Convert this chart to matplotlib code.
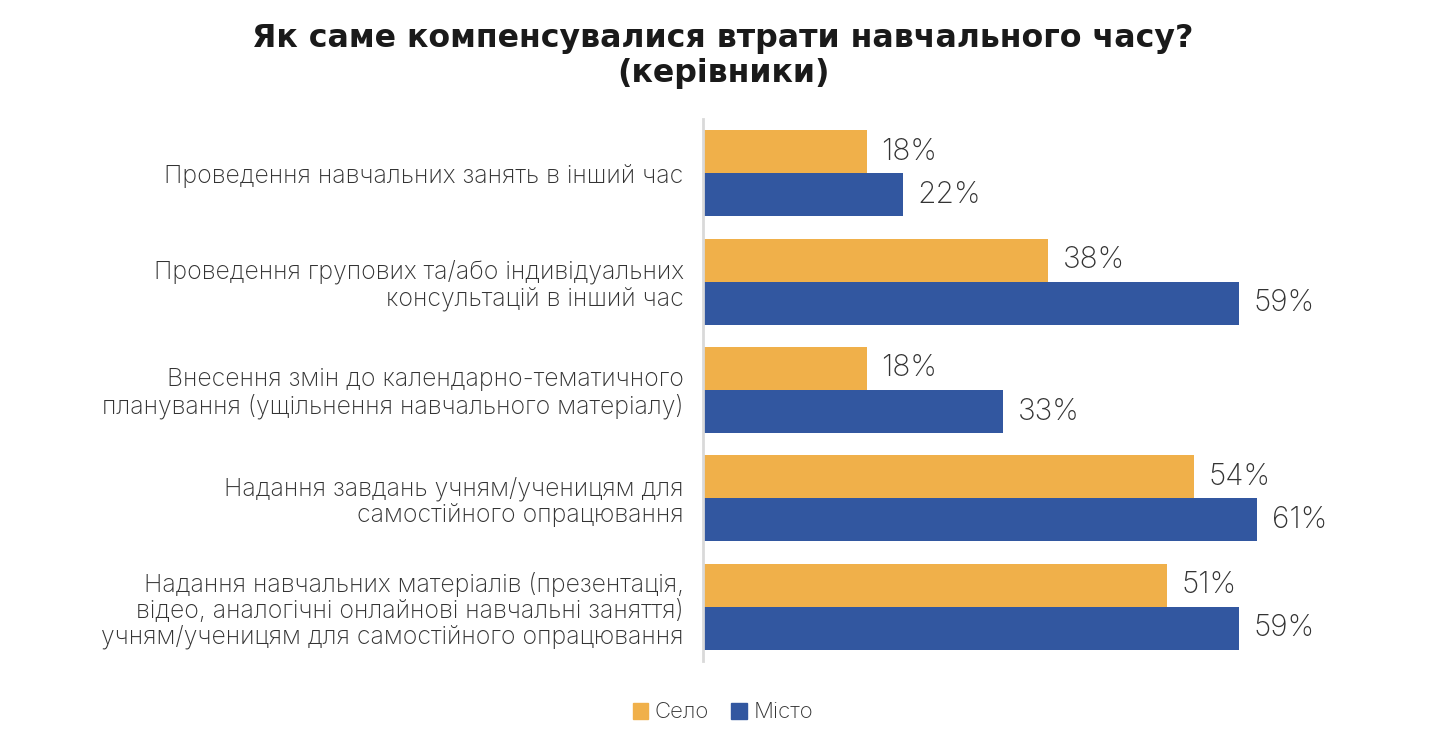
import matplotlib.pyplot as plt
import numpy as np
from matplotlib.patches import Patch

categories = [
    "Проведення навчальних занять в інший час",
    "Проведення групових та/або індивідуальних\nконсультацій в інший час",
    "Внесення змін до календарно-тематичного\nпланування (ущільнення навчального матеріалу)",
    "Надання завдань учням/ученицям для\nсамостійного опрацювання",
    "Надання навчальних матеріалів (презентація,\nвідео, аналогічні онлайнові навчальні заняття)\nучням/ученицям для самостійного опрацювання",
]
selo = [18, 38, 18, 54, 51]
misto = [22, 59, 33, 61, 59]
series_names = ["Село", "Місто"]

ORANGE = "#F0B04A"
BLUE = "#3257A0"
TEXT = "#333333"

plt.rcParams['font.family'] = ['Inter', 'DejaVu Sans']

fig = plt.figure(figsize=(14.46, 7.5), dpi=100)
ax = fig.add_axes([0.4862, 0.1187, 0.44, 0.7226])

y = np.arange(len(categories))
h = 0.397
bars_s = ax.barh(y - h / 2, selo, height=h, color=ORANGE)
bars_m = ax.barh(y + h / 2, misto, height=h, color=BLUE)

for bars in (bars_s, bars_m):
    for b in bars:
        ax.text(b.get_width() + 1.6, b.get_y() + b.get_height() / 2,
                f"{int(b.get_width())}%", ha='left', va='center',
                fontsize=21.5, color=TEXT, fontweight='light')

ax.set_xlim(0, 70)
ax.set_ylim(len(categories) - 0.5, -0.5)
ax.set_yticks(y)
ax.set_yticklabels(categories, fontsize=17.9, color=TEXT, fontweight='light',
                   linespacing=1.1)
ax.tick_params(axis='y', length=0, pad=14)
ax.set_xticks([])
for s in ['top', 'right', 'bottom']:
    ax.spines[s].set_visible(False)
ax.spines['left'].set_color('#D9D9D9')
ax.spines['left'].set_linewidth(2)

fig.text(0.5, 0.925, "Як саме компенсувалися втрати навчального часу?\n(керівники)",
         ha='center', va='center', fontsize=22.8, fontweight='bold', color='#1A1A1A',
         family=['DejaVu Sans'], linespacing=1.15)

handles = [Patch(color=ORANGE, label=series_names[0]),
           Patch(color=BLUE, label=series_names[1])]
fig.legend(handles=handles, loc='center', bbox_to_anchor=(0.5, 0.05), ncol=2,
           frameon=False, handlelength=0.7, handleheight=0.7,
           handletextpad=0.3, columnspacing=1.0, labelcolor=TEXT,
           prop={'family': ['Inter', 'DejaVu Sans'], 'weight': 'light', 'size': 16})

fig.savefig('out.png', dpi=100)
